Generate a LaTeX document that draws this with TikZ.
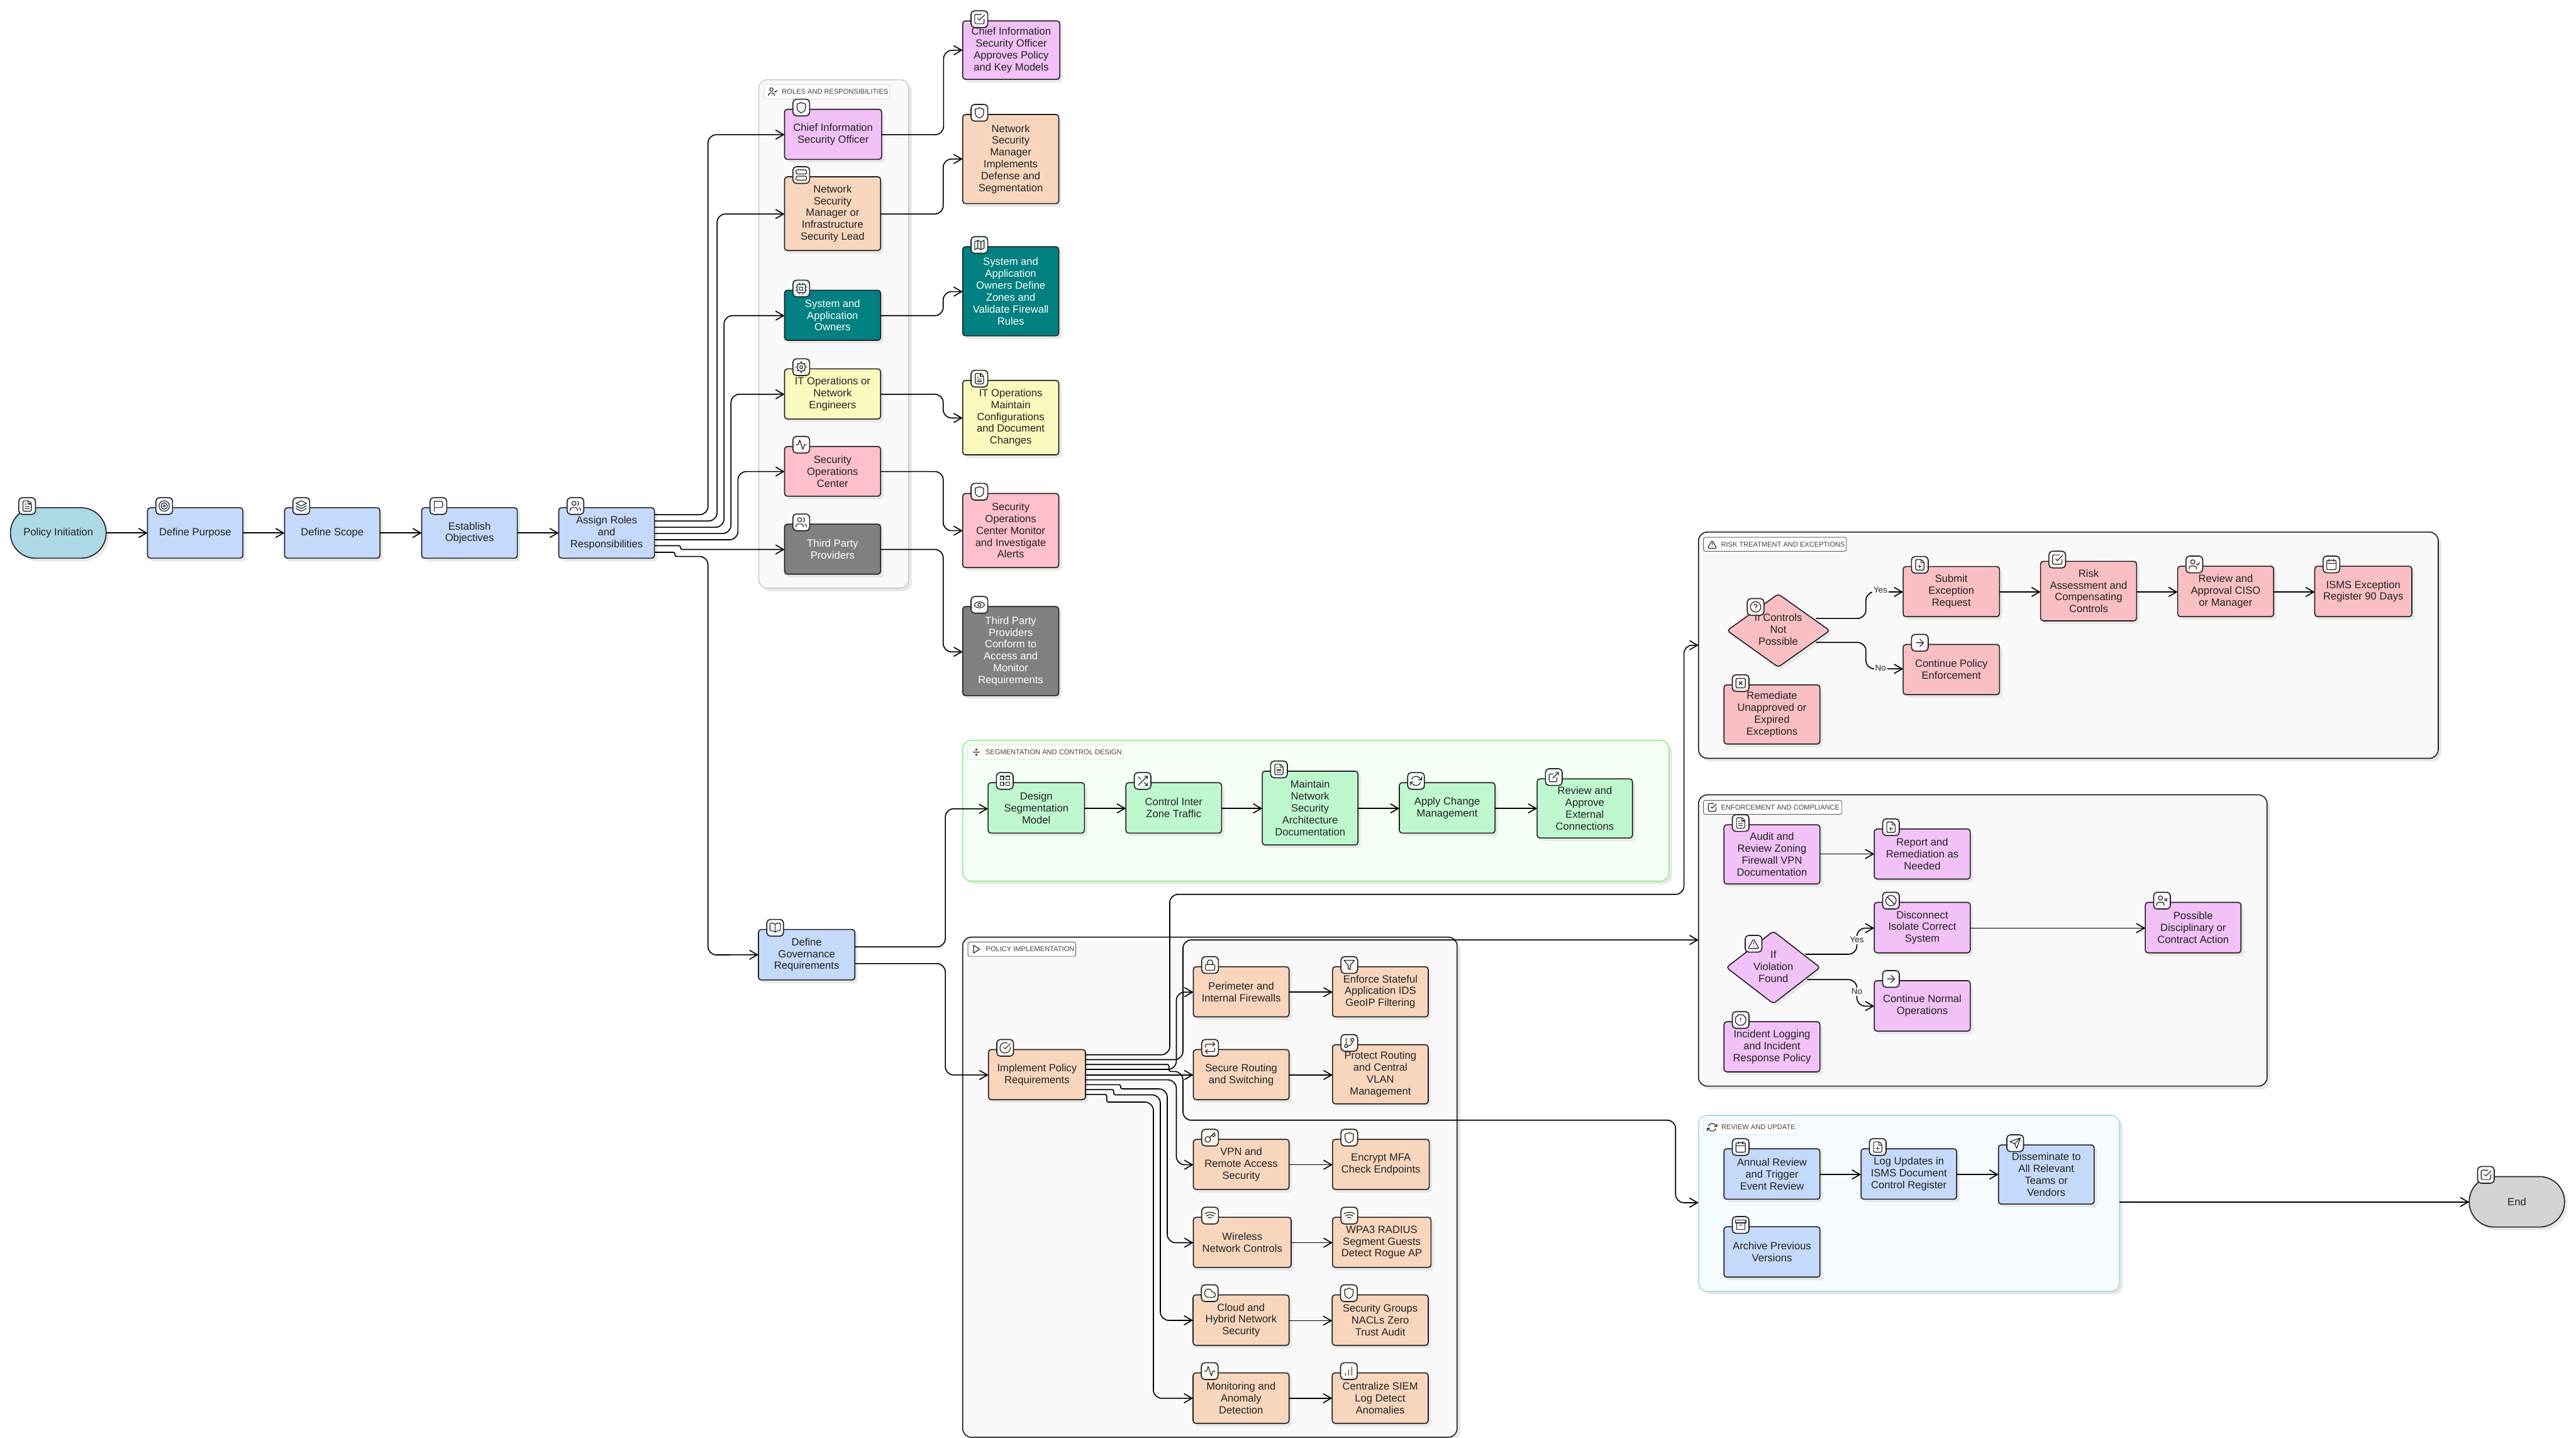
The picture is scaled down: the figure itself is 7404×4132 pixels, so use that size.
\documentclass[tikz,border=0pt]{standalone}
\usepackage{fontspec}
\setmainfont{Liberation Sans}
\usetikzlibrary{arrows.meta}
\definecolor{ink}{HTML}{222222}
\definecolor{shc}{HTML}{E8E8E8}
\definecolor{cblue}{HTML}{C5D9FB}
\definecolor{cltb}{HTML}{ADD8E6}
\definecolor{cpeach}{HTML}{F8D6BE}
\definecolor{cviol}{HTML}{F2C1F7}
\definecolor{cteal}{HTML}{008080}
\definecolor{cyel}{HTML}{FAFABE}
\definecolor{cpink}{HTML}{FFC0CB}
\definecolor{cgray}{HTML}{808080}
\definecolor{cmint}{HTML}{BFF8CF}
\definecolor{crose}{HTML}{F9BFC2}
\definecolor{cend}{HTML}{D3D3D3}
\definecolor{cluf}{HTML}{F9F9F9}
\definecolor{clug}{HTML}{F6FFF6}
\definecolor{club}{HTML}{F6FBFF}
\definecolor{bdg}{HTML}{90EE90}
\definecolor{bdb}{HTML}{ADD8E6}
\definecolor{bdr}{HTML}{CCCCCC}
\foreach \c in {blue,ltb,peach,viol,teal,yel,pink,gray,mint,rose,end}{\global\expandafter\let\csname dummy\c\endcsname\relax}
\colorlet{tblue}{cblue!15!white}\colorlet{tltb}{cltb!15!white}\colorlet{tpeach}{cpeach!15!white}
\colorlet{tviol}{cviol!15!white}\colorlet{tteal}{cteal!8!white}\colorlet{tyel}{cyel!15!white}
\colorlet{tpink}{cpink!15!white}\colorlet{tgray}{white}\colorlet{tmint}{cmint!15!white}
\colorlet{trose}{crose!15!white}\colorlet{tend}{cend!15!white}
\tikzset{
 x=0.01cm,y=-0.01cm,
 txt/.style={font={\fontsize{8.54pt}{9.67pt}\selectfont},align=center,text=ink},
 nbox/.style={draw=ink,line width=.85pt,rounded corners=.08cm,inner sep=0pt,outer sep=0pt,txt},
 nblue/.style={fill=cblue},nltb/.style={fill=cltb,rounded corners=.72cm},npeach/.style={fill=cpeach},
 nviol/.style={fill=cviol},nteal/.style={fill=cteal,text=white},nyel/.style={fill=cyel},
 npink/.style={fill=cpink},ngray/.style={fill=cgray,text=white},nmint/.style={fill=cmint},
 nrose/.style={fill=crose},nend/.style={fill=cend,rounded corners=.72cm},
 ibox/.style={draw=ink,line width=.85pt,rounded corners=.1cm,minimum width=.48cm,minimum height=.48cm,inner sep=0pt,outer sep=0pt},
 ics/.style={draw=ink,line width=.6pt,line join=round,line cap=round},
 conn/.style={draw=black,line width=.85pt,rounded corners=.24cm,-{Straight Barb[length=6.5pt,width=7.5pt]}},
 lbl/.style={font={\fontsize{6.9pt}{8pt}\selectfont},text=ink,fill=cluf,inner sep=1pt,outer sep=0pt},
 pill/.style={fill=white,line width=.5pt,rounded corners=.05cm,inner sep=0pt,outer sep=0pt},
 ttxt/.style={font={\fontsize{5.7pt}{7pt}\selectfont},text=black!75,inner sep=0pt,anchor=west},
 clubox/.style={line width=.85pt,rounded corners=.25cm,inner sep=0pt,outer sep=0pt},
}
% ---- icons in a 24-unit box
\newcommand\icFileB{\draw[ics,rounded corners=.3mm] (15,2)--(4,2)--(4,22)--(20,22)--(20,7)--cycle;\draw[ics] (14,2)--(14,8)--(20,8);}
\newcommand\icFile{\icFileB\draw[ics] (10,9)--(8,9) (16,13)--(8,13) (16,17)--(8,17);}
\newcommand\icFilePlus{\icFileB\draw[ics] (12,12)--(12,18) (9,15)--(15,15);}
\newcommand\icTarget{\draw[ics] (12,12) circle[radius=10] (12,12) circle[radius=6] (12,12) circle[radius=2];}
\newcommand\icLayers{\draw[ics] (12,2)--(22,7)--(12,12)--(2,7)--cycle (2,12)--(12,17)--(22,12) (2,17)--(12,22)--(22,17);}
\newcommand\icFlag{\draw[ics,rounded corners=.3mm] (4,3)--(20,3)--(20,15)--(4,15);\draw[ics] (4,22)--(4,3);}
\newcommand\icUsers{\draw[ics] (9,7) circle[radius=4];\draw[ics,rounded corners=.6mm] (2,21)--(2,15)--(16,15)--(16,21);\draw[ics] (22,21) .. controls (22,18) and (21,16) .. (19,15.13) (16,3.13) .. controls (19,4) and (19,10) .. (16,10.88);}
\newcommand\icUserB{\draw[ics] (9,7) circle[radius=4];\draw[ics,rounded corners=.6mm] (2,21)--(2,15)--(16,15)--(16,21);}
\newcommand\icUserCheck{\icUserB\draw[ics] (16,11)--(18,13)--(22,9);}
\newcommand\icUserX{\icUserB\draw[ics] (17,8)--(22,13) (22,8)--(17,13);}
\newcommand\icShield{\draw[ics] (12,2) .. controls (14.5,4) and (17,5) .. (20,5) -- (20,13) .. controls (20,18) and (16,20.5) .. (12,22) .. controls (8,20.5) and (4,18) .. (4,13) -- (4,5) .. controls (7,5) and (9.5,4) .. (12,2) -- cycle;}
\newcommand\icServer{\draw[ics,rounded corners=.3mm] (2,2) rectangle (22,10) (2,14) rectangle (22,22);\draw[ics] (6,6)--(6.01,6) (6,18)--(6.01,18);}
\newcommand\icCpu{\draw[ics,rounded corners=.3mm] (4,4) rectangle (20,20);\draw[ics] (9,9) rectangle (15,15);\foreach \k in {9,15}{\draw[ics] (\k,1.5)--(\k,4) (\k,20)--(\k,22.5) (1.5,\k)--(4,\k) (20,\k)--(22.5,\k);}}
\newcommand\icGear{\draw[ics] (12,12) circle[radius=3] (12,12) circle[radius=7.8];\foreach \a in {0,45,...,315}{\draw[ics] ({12+7.8*cos(\a)},{12+7.8*sin(\a)})--({12+10.5*cos(\a)},{12+10.5*sin(\a)});}}
\newcommand\icActivity{\draw[ics] (22,12)--(18,12)--(15,21)--(9,3)--(6,12)--(2,12);}
\newcommand\icSqCheck{\draw[ics,rounded corners=.3mm] (21,12)--(21,21)--(3,21)--(3,3)--(16,3);\draw[ics] (9,11)--(12,14)--(22,4);}
\newcommand\icMap{\draw[ics] (9,3)--(3,6)--(3,21)--(9,18)--(15,21)--(21,18)--(21,3)--(15,6)--cycle (9,3)--(9,18) (15,6)--(15,21);}
\newcommand\icEye{\draw[ics] (2,12) .. controls (6,4) and (18,4) .. (22,12) .. controls (18,20) and (6,20) .. (2,12) -- cycle (12,12) circle[radius=3];}
\newcommand\icBook{\draw[ics,rounded corners=.3mm] (12,7)--(10,3)--(2,3)--(2,18)--(10,18)--(12,21)--(14,18)--(22,18)--(22,3)--(14,3)--cycle;\draw[ics] (12,7)--(12,21);}
\newcommand\icDivide{\draw[ics] (12,6) circle[radius=1.5] (5,12)--(19,12) (12,18) circle[radius=1.5];}
\newcommand\icGrid{\draw[ics] (3,3) rectangle (10,10) (14,3) rectangle (21,10) (14,14) rectangle (21,21) (3,14) rectangle (10,21);}
\newcommand\icShuffle{\draw[ics] (16,3)--(21,3)--(21,8) (4,20)--(21,3) (21,16)--(21,21)--(16,21) (15,15)--(21,21) (4,4)--(9,9);}
\newcommand\icRefresh{\draw[ics] (23,4)--(23,10)--(17,10) (1,20)--(1,14)--(7,14) (3.51,9) .. controls (5,4) and (13,0.5) .. (18.36,5.64) -- (23,10) (1,14) -- (5.64,18.36) .. controls (11,23.5) and (19,20) .. (20.49,15);}
\newcommand\icExt{\draw[ics,rounded corners=.3mm] (18,13)--(18,21)--(3,21)--(3,6)--(11,6);\draw[ics] (15,3)--(21,3)--(21,9) (10,14)--(21,3);}
\newcommand\icPlay{\draw[ics] (5,3)--(19,12)--(5,21)--cycle;}
\newcommand\icCheckC{\draw[ics] (22,11) .. controls (22.5,18) and (17,22) .. (12,22) .. controls (6,22) and (2,17.5) .. (2,12) .. controls (2,6.5) and (6.5,2) .. (12,2) .. controls (13.5,2) and (15,2.3) .. (16,2.8);\draw[ics] (9,11)--(12,14)--(22,4);}
\newcommand\icLock{\draw[ics,rounded corners=.3mm] (3,11) rectangle (21,22);\draw[ics] (7,11)--(7,7) .. controls (7,0.5) and (17,0.5) .. (17,7)--(17,11);}
\newcommand\icFilter{\draw[ics] (22,3)--(2,3)--(10,12.46)--(10,19)--(14,21)--(14,12.46)--cycle;}
\newcommand\icRepeat{\draw[ics] (17,1)--(21,5)--(17,9) (7,23)--(3,19)--(7,15);\draw[ics,rounded corners=.4mm] (3,11)--(3,5)--(21,5) (21,13)--(21,19)--(3,19);}
\newcommand\icBranch{\draw[ics] (6,3)--(6,15) (18,6) circle[radius=3] (6,18) circle[radius=3] (18,9) .. controls (18,14) and (14,18) .. (9,18);}
\newcommand\icKey{\draw[ics] (7.5,15.5) circle[radius=5.5] (21,2)--(11.5,11.5) (15.5,7.5)--(18.5,10.5)--(22,7)--(19,4);}
\newcommand\icWifi{\draw[ics] (2,8.82) .. controls (7,4.5) and (17,4.5) .. (22,8.82) (5,12.86) .. controls (9,9.5) and (15,9.5) .. (19,12.86) (8.5,16.43) .. controls (10.5,14.8) and (13.5,14.8) .. (15.5,16.43) (12,20)--(12.01,20);}
\newcommand\icCloud{\draw[ics] (18,10)--(16.74,10) .. controls (15.5,4.5) and (9.5,2.5) .. (5,5.5) .. controls (-0.5,10) and (2,20) .. (9,20) -- (18,20) .. controls (24.5,20) and (24.5,10) .. (18,10) -- cycle;}
\newcommand\icBars{\draw[ics] (12,20)--(12,10) (18,20)--(18,4) (6,20)--(6,16);}
\newcommand\icAlert{\draw[ics,rounded corners=.3mm] (12,3)--(22.5,21)--(1.5,21)--cycle;\draw[ics] (12,9)--(12,13) (12,17)--(12.01,17);}
\newcommand\icHelp{\draw[ics] (12,12) circle[radius=10] (9.09,9) .. controls (9.5,6) and (15,6.5) .. (15,9.5) .. controls (15,11.5) and (12,12) .. (12,13.5) (12,17)--(12.01,17);}
\newcommand\icCal{\draw[ics,rounded corners=.3mm] (3,4) rectangle (21,22);\draw[ics] (16,2)--(16,6) (8,2)--(8,6) (3,10)--(21,10);}
\newcommand\icArrow{\draw[ics] (5,12)--(19,12) (12,5)--(19,12)--(12,19);}
\newcommand\icSqX{\draw[ics,rounded corners=.3mm] (3,3) rectangle (21,21);\draw[ics] (9,9)--(15,15) (15,9)--(9,15);}
\newcommand\icBan{\draw[ics] (12,12) circle[radius=10] (4.93,4.93)--(19.07,19.07);}
\newcommand\icOct{\draw[ics] (7.86,2)--(16.14,2)--(22,7.86)--(22,16.14)--(16.14,22)--(7.86,22)--(2,16.14)--(2,7.86)--cycle (12,8)--(12,12) (12,16)--(12.01,16);}
\newcommand\icSend{\draw[ics] (22,2)--(15,22)--(11,13)--(2,9)--cycle (22,2)--(11,13);}
\newcommand\icArchive{\draw[ics] (2,3) rectangle (22,8) (4,8)--(4,21)--(20,21)--(20,8) (10,12)--(14,12);}
% ---- builders
\newcommand\putic[4]{\pgfmathsetmacro\icu{#4*0.01}\pgfmathsetmacro\ico{12*#4*0.01}%
 \begin{scope}[shift={(#2,#3)},x=\icu cm,y=-\icu cm,xshift=-\ico cm,yshift=\ico cm]\csname ic#1\endcsname\end{scope}}
\newcommand\nd[8]{\pgfmathsetmacro\cxv{(#2+#4)/2}\pgfmathsetmacro\cyv{(#3+#5)/2}%
 \pgfmathsetmacro\wv{(#4-#2)*0.01}\pgfmathsetmacro\hv{(#5-#3)*0.01}%
 \fill[shc,rounded corners=.08cm,n#6,fill=shc] (#2+8,#3+8) rectangle (#4+8,#5+8);
 \node[nbox,n#6,minimum width=\wv cm,minimum height=\hv cm] (#1) at (\cxv,\cyv-1) {#7};
 \node[ibox,fill=t#6] (#1-i) at (#2+48,#3-6) {};
 \putic{#8}{#2+48}{#3-6}{1.5}}
\newcommand\clu[7]{\pgfmathsetmacro\cxv{(#2+#4)/2}\pgfmathsetmacro\cyv{(#3+#5)/2}%
 \pgfmathsetmacro\wv{(#4-#2)*0.01}\pgfmathsetmacro\hv{(#5-#3)*0.01}%
 \fill[shc,rounded corners=.25cm] (#2+9,#3+9) rectangle (#4+9,#5+9);
 \node[clubox,draw=#6,fill=#7,minimum width=\wv cm,minimum height=\hv cm] (#1) at (\cxv,\cyv) {};}
\newcommand\ttl[7]{\pgfmathsetmacro\cxv{(#2+#4)/2}\pgfmathsetmacro\cyv{(#3+#5)/2}%
 \pgfmathsetmacro\wv{(#4-#2)*0.01}\pgfmathsetmacro\hv{(#5-#3)*0.01}%
 \node[pill,draw=#6,minimum width=\wv cm,minimum height=\hv cm] (#1) at (\cxv,\cyv) {};
 \putic{#7}{#2+25}{\cyv}{1.25}}
\begin{document}
\begin{tikzpicture}
\useasboundingbox (0,0) rectangle (7404,4132);
% clusters
\clu{cRoles}{2181}{229}{2612}{1690}{bdr}{cluf}
\ttl{pRoles}{2196}{243}{2557}{284}{black!13}{UserCheck}
\node[ttxt] (tRoles) at (2247,263.5) {ROLES AND RESPONSIBILITIES};
\clu{cSeg}{2767}{2127}{4797}{2532}{bdg}{clug}
\ttl{pSeg}{2781}{2141}{3227}{2182}{bdg!50}{Divide}
\node[ttxt] (tSeg) at (2832,2161.5) {SEGMENTATION AND CONTROL DESIGN};
\clu{cPol}{2767}{2693}{4188}{4130}{ink}{cluf}
\ttl{pPol}{2782}{2707}{3092}{2748}{black!60}{Play}
\node[ttxt] (tPol) at (2833,2727.5) {POLICY IMPLEMENTATION};
\clu{cRisk}{4882}{1529}{7008}{2179}{ink}{cluf}
\ttl{pRisk}{4896}{1544}{5307}{1584}{black!60}{Alert}
\node[ttxt] (tRisk) at (4946,1564) {RISK TREATMENT AND EXCEPTIONS};
\clu{cEnf}{4882}{2284}{6516}{3121}{ink}{cluf}
\ttl{pEnf}{4896}{2300}{5294}{2340}{black!60}{SqCheck}
\node[ttxt] (tEnf) at (4946,2320) {ENFORCEMENT AND COMPLIANCE};
\clu{cRev}{4882}{3205}{6092}{3711}{bdb}{club}
\ttl{pRev}{4896}{3219}{5163}{3260}{bdb!50}{Refresh}
\node[ttxt] (tRev) at (4947,3239.5) {REVIEW AND UPDATE};
% main row
\nd{pi}{30}{1460}{305}{1605}{ltb}{Policy Initiation}{File}
\nd{purpose}{424}{1460}{698}{1605}{blue}{Define Purpose}{Target}
\nd{scope}{818}{1460}{1092}{1605}{blue}{Define Scope}{Layers}
\nd{objectives}{1212}{1460}{1487}{1605}{blue}{Establish\\Objectives}{Flag}
\nd{assign}{1606}{1460}{1881}{1605}{blue}{Assign Roles\\and\\Responsibilities}{Users}
\nd{gov}{2180}{2672}{2457}{2817}{blue}{Define\\Governance\\Requirements}{Book}
% roles
\nd{ciso}{2255}{315}{2534}{459}{viol}{Chief Information\\Security Officer}{Shield}
\nd{nsm}{2255}{509}{2531}{721}{peach}{Network\\Security\\Manager or\\Infrastructure\\Security Lead}{Server}
\nd{sao}{2255}{835}{2531}{979}{teal}{System and\\Application\\Owners}{Cpu}
\nd{ito}{2255}{1061}{2531}{1205}{yel}{IT Operations or\\Network\\Engineers}{Gear}
\nd{soc}{2255}{1284}{2531}{1427}{pink}{Security\\Operations\\Center}{Activity}
\nd{tpp}{2255}{1507}{2531}{1651}{gray}{Third Party\\Providers}{Users}
% role results
\nd{ciso2}{2767}{61}{3046}{229}{viol}{Chief Information\\Security Officer\\Approves Policy\\and Key Models}{SqCheck}
\nd{nsm2}{2767}{330}{3043}{586}{peach}{Network\\Security\\Manager\\Implements\\Defense and\\Segmentation}{Shield}
\nd{sao2}{2767}{710}{3043}{966}{teal}{System and\\Application\\Owners Define\\Zones and\\Validate Firewall\\Rules}{Map}
\nd{ito2}{2767}{1094}{3043}{1308}{yel}{IT Operations\\Maintain\\Configurations\\and Document\\Changes}{File}
\nd{soc2}{2767}{1419}{3043}{1632}{pink}{Security\\Operations\\Center Monitor\\and Investigate\\Alerts}{Shield}
\nd{tpp2}{2767}{1744}{3043}{2000}{gray}{Third Party\\Providers\\Conform to\\Access and\\Monitor\\Requirements}{Eye}
% segmentation
\nd{seg1}{2840}{2250}{3117}{2395}{mint}{Design\\Segmentation\\Model}{Grid}
\nd{seg2}{3236}{2250}{3511}{2395}{mint}{Control Inter\\Zone Traffic}{Shuffle}
\nd{seg3}{3628}{2217}{3903}{2429}{mint}{Maintain\\Network\\Security\\Architecture\\Documentation}{File}
\nd{seg4}{4022}{2250}{4297}{2395}{mint}{Apply Change\\Management}{Refresh}
\nd{seg5}{4418}{2239}{4692}{2409}{mint}{Review and\\Approve\\External\\Connections}{Ext}
% policy
\nd{impl}{2841}{3017}{3120}{3161}{peach}{Implement Policy\\Requirements}{CheckC}
\nd{p1}{3430}{2779}{3705}{2923}{peach}{Perimeter and\\Internal Firewalls}{Lock}
\nd{q1}{3830}{2779}{4105}{2923}{peach}{Enforce Stateful\\Application IDS\\GeoIP Filtering}{Filter}
\nd{p2}{3430}{3017}{3705}{3161}{peach}{Secure Routing\\and Switching}{Repeat}
\nd{q2}{3830}{3003}{4105}{3173}{peach}{Protect Routing\\and Central\\VLAN\\Management}{Branch}
\nd{p3}{3430}{3275}{3705}{3419}{peach}{VPN and\\Remote Access\\Security}{Key}
\nd{q3}{3830}{3275}{4108}{3419}{peach}{Encrypt MFA\\Check Endpoints}{Shield}
\nd{p4}{3430}{3499}{3711}{3643}{peach}{Wireless\\Network Controls}{Wifi}
\nd{q4}{3830}{3499}{4113}{3643}{peach}{WPA3 RADIUS\\Segment Guests\\Detect Rogue AP}{Wifi}
\nd{p5}{3429}{3722}{3705}{3867}{peach}{Cloud and\\Hybrid Network\\Security}{Cloud}
\nd{q5}{3829}{3722}{4105}{3867}{peach}{Security Groups\\NACLs Zero\\Trust Audit}{Shield}
\nd{p6}{3429}{3946}{3705}{4091}{peach}{Monitoring and\\Anomaly\\Detection}{Activity}
\nd{q6}{3829}{3946}{4105}{4091}{peach}{Centralize SIEM\\Log Detect\\Anomalies}{Bars}
% risk
\fill[shc,rounded corners=.08cm] (4972,1820)--(5119,1715)--(5267,1820)--(5119,1925)--cycle;
\draw[nrose,draw=ink,line width=.85pt,rounded corners=.08cm] (4964,1812)--(5111,1707)--(5259,1812)--(5111,1917)--cycle;
\node[txt,inner sep=0pt] (d1) at (5111,1809) {If Controls\\Not\\Possible};
\node[ibox,fill=trose] (d1-i) at (5046,1744) {};
\putic{Help}{5046}{1744}{1.5}
\coordinate (d1y) at (5219,1777);
\coordinate (d1n) at (5219,1846);
\nd{r1}{5470}{1629}{5747}{1773}{rose}{Submit\\Exception\\Request}{FilePlus}
\nd{r2}{5865}{1614}{6141}{1785}{rose}{Risk\\Assessment and\\Compensating\\Controls}{SqCheck}
\nd{r3}{6259}{1628}{6535}{1773}{rose}{Review and\\Approval CISO\\or Manager}{UserCheck}
\nd{r4}{6653}{1628}{6932}{1773}{rose}{ISMS Exception\\Register 90 Days}{Cal}
\nd{r5}{5470}{1853}{5747}{1997}{rose}{Continue Policy\\Enforcement}{Arrow}
\nd{r6}{4955}{1969}{5231}{2139}{rose}{Remediate\\Unapproved or\\Expired\\Exceptions}{SqX}
% enforcement
\nd{e1}{4955}{2371}{5231}{2541}{viol}{Audit and\\Review Zoning\\Firewall VPN\\Documentation}{File}
\nd{e2}{5387}{2383}{5663}{2527}{viol}{Report and\\Remediation as\\Needed}{FilePlus}
\fill[shc,rounded corners=.08cm] (4970,2788)--(5105,2684)--(5239,2788)--(5105,2892)--cycle;
\draw[nviol,draw=ink,line width=.85pt,rounded corners=.08cm] (4962,2780)--(5097,2676)--(5231,2780)--(5097,2884)--cycle;
\node[txt,inner sep=0pt] (d2) at (5097,2777) {If\\Violation\\Found};
\node[ibox,fill=tviol] (d2-i) at (5040,2712) {};
\putic{Alert}{5040}{2712}{1.5}
\coordinate (d2y) at (5189,2742);
\coordinate (d2n) at (5194,2815);
\nd{e3}{5387}{2594}{5663}{2739}{viol}{Disconnect\\Isolate Correct\\System}{Ban}
\nd{e4}{6166}{2594}{6441}{2739}{viol}{Possible\\Disciplinary or\\Contract Action}{UserX}
\nd{e5}{5387}{2819}{5663}{2964}{viol}{Continue Normal\\Operations}{Arrow}
\nd{e6}{4955}{2937}{5231}{3081}{viol}{Incident Logging\\and Incident\\Response Policy}{Oct}
% review
\nd{u1}{4955}{3302}{5231}{3447}{blue}{Annual Review\\and Trigger\\Event Review}{Cal}
\nd{u2}{5349}{3302}{5624}{3447}{blue}{Log Updates in\\ISMS Document\\Control Register}{FilePlus}
\nd{u3}{5744}{3291}{6019}{3461}{blue}{Disseminate to\\All Relevant\\Teams or\\Vendors}{Send}
\nd{u4}{4955}{3526}{5231}{3671}{blue}{Archive Previous\\Versions}{Archive}
\nd{endn}{7097}{3382}{7371}{3527}{end}{End}{SqCheck}
% connectors: main row
\draw[conn] (pi.east) -- (purpose.west);
\draw[conn] (purpose.east) -- (scope.west);
\draw[conn] (scope.east) -- (objectives.west);
\draw[conn] (objectives.east) -- (assign.west);
\draw[conn] (assign.east |- 0,1479) -- (2035,1479) -- (2035,387) -- (ciso.west |- 0,387);
\draw[conn] (assign.east |- 0,1497) -- (2061,1497) -- (2061,615) -- (nsm.west |- 0,615);
\draw[conn] (assign.east |- 0,1515) -- (2081,1515) -- (2081,907) -- (sao.west |- 0,907);
\draw[conn] (assign.east |- 0,1533) -- (2101,1533) -- (2101,1133) -- (ito.west |- 0,1133);
\draw[conn] (assign.east |- 0,1551) -- (2121,1551) -- (2121,1355) -- (soc.west |- 0,1355);
\draw[conn,rounded corners=.05cm] (assign.east |- 0,1568) -- (1956,1568) -- (1956,1579) -- (tpp.west |- 0,1579);
\draw[conn,rounded corners=.05cm] (assign.east |- 0,1587) -- (1940,1587) -- (1940,1599) [rounded corners=.24cm] -- (2035,1599) -- (2035,2744) -- (gov.west);
% role results
\draw[conn] (ciso.east |- 0,387) -- (2712,387) -- (2712,145) -- (ciso2.west);
\draw[conn] (nsm.east |- 0,615) -- (2711,615) -- (2711,457) -- (nsm2.west |- 0,457);
\draw[conn] (sao.east |- 0,907) -- (2711,907) -- (2711,838) -- (sao2.west |- 0,838);
\draw[conn] (ito.east |- 0,1133) -- (2711,1133) -- (2711,1201) -- (ito2.west |- 0,1201);
\draw[conn] (soc.east |- 0,1355) -- (2711,1355) -- (2711,1525) -- (soc2.west |- 0,1525);
\draw[conn] (tpp.east |- 0,1579) -- (2711,1579) -- (2711,1873) -- (tpp2.west |- 0,1873);
% governance
\draw[conn] (gov.east |- 0,2721) -- (2717,2721) -- (2717,2324) -- (seg1.west |- 0,2324);
\draw[conn] (gov.east |- 0,2769) -- (2717,2769) -- (2717,3089) -- (impl.west |- 0,3089);
\draw[conn] (seg1.east |- 0,2323) -- (seg2.west |- 0,2323);
\draw[conn] (seg2.east |- 0,2323) -- (seg3.west |- 0,2323);
\draw[conn] (seg3.east |- 0,2323) -- (seg4.west |- 0,2323);
\draw[conn] (seg4.east |- 0,2323) -- (seg5.west |- 0,2323);
% implementation fan
\draw[conn] (impl.east |- 0,3031) -- (3362,3031) -- (3362,2570) -- (4840,2570) -- (4840,1854) -- (cRisk.west |- 0,1854);
\draw[conn] (impl.east |- 0,3045) -- (3400,3045) -- (3400,2701) -- (cEnf.west |- 0,2701);
\draw[conn,rounded corners=.05cm] (impl.east |- 0,3059) -- (3360,3059) -- (3360,3079) [rounded corners=.24cm] -- (3400,3079) -- (3400,3219) -- (4816,3219) -- (4816,3456) -- (cRev.west |- 0,3456);
\draw[conn] (impl.east |- 0,3073) -- (3381,3073) -- (3381,2851) -- (p1.west |- 0,2851);
\draw[conn] (impl.east |- 0,3089) -- (p2.west |- 0,3089);
\draw[conn] (impl.east |- 0,3103) -- (3381,3103) -- (3381,3347) -- (p3.west |- 0,3347);
\draw[conn,rounded corners=.05cm] (impl.east |- 0,3117) -- (3221,3117) -- (3221,3129) [rounded corners=.24cm] -- (3355,3129) -- (3355,3571) -- (p4.west |- 0,3571);
\draw[conn,rounded corners=.05cm] (impl.east |- 0,3131) -- (3201,3131) -- (3201,3146) [rounded corners=.24cm] -- (3335,3146) -- (3335,3794) -- (p5.west |- 0,3794);
\draw[conn,rounded corners=.05cm] (impl.east |- 0,3145) -- (3181,3145) -- (3181,3167) [rounded corners=.24cm] -- (3315,3167) -- (3315,4018) -- (p6.west |- 0,4018);
\draw[conn] (p1.east |- 0,2851) -- (q1.west |- 0,2851);
\draw[conn] (p2.east |- 0,3089) -- (q2.west |- 0,3089);
\draw[conn] (p3.east |- 0,3347) -- (q3.west |- 0,3347);
\draw[conn] (p4.east |- 0,3571) -- (q4.west |- 0,3571);
\draw[conn] (p5.east |- 0,3795) -- (q5.west |- 0,3795);
\draw[conn] (p6.east |- 0,4018) -- (q6.west |- 0,4018);
% risk
\draw[conn] (d1y) -- (5363,1777) -- (5363,1701) -- (r1.west |- 0,1701);
\draw[conn] (d1n) -- (5363,1846) -- (5363,1922) -- (r5.west |- 0,1922);
\node[lbl] (ly1) at (5405,1695) {Yes};
\node[lbl] (ln1) at (5405,1919) {No};
\draw[conn] (r1.east |- 0,1701) -- (r2.west |- 0,1701);
\draw[conn] (r2.east |- 0,1701) -- (r3.west |- 0,1701);
\draw[conn] (r3.east |- 0,1701) -- (r4.west |- 0,1701);
% enforcement
\draw[conn] (e1.east |- 0,2454) -- (e2.west |- 0,2454);
\draw[conn] (d2y) -- (5337,2742) -- (5337,2667) -- (e3.west |- 0,2667);
\draw[conn] (d2n) -- (5337,2815) -- (5337,2891) -- (e5.west |- 0,2891);
\node[lbl] (ly2) at (5337,2701) {Yes};
\node[lbl] (ln2) at (5337,2849) {No};
\draw[conn] (e3.east |- 0,2667) -- (e4.west |- 0,2667);
% review
\draw[conn] (u1.east |- 0,3375) -- (u2.west |- 0,3375);
\draw[conn] (u2.east |- 0,3375) -- (u3.west |- 0,3375);
\draw[conn] (cRev.east |- 0,3454) -- (endn.west |- 0,3454);
\end{tikzpicture}
\end{document}
